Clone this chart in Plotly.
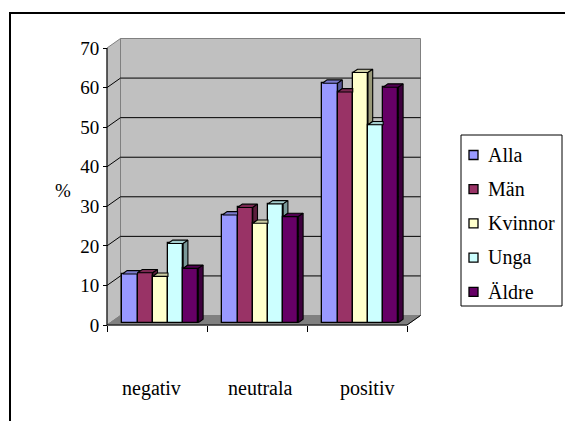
import plotly.graph_objects as go

# Survey answers (%) per attitude category
categories = ["negativ", "neutrala", "positiv"]
series_names = ["Alla", "Män", "Kvinnor", "Unga", "Äldre"]
alla = [12.3, 27.2, 60.5]
man = [12.6, 29.1, 58.3]
kvinnor = [11.7, 25.1, 63.2]
unga = [20.0, 30.0, 50.0]
aldre = [13.7, 26.8, 59.5]
y_ticks = [0, 10, 20, 30, 40, 50, 60, 70]

series_values = [alla, man, kvinnor, unga, aldre]
colors = ["#9999FF", "#993366", "#FFFFCC", "#CCFFFF", "#660066"]

FONT = "Liberation Serif"
FS = 19
FS_LABEL = 20

# ---- page geometry (pixels) ----
W, H = 565, 421
ML, MR, MT, MB = 82, 133, 28, 84
PW, PH = W - ML - MR, H - MT - MB
PX_X = 100.0          # pixels per category
PX_Y = 3.957          # pixels per percent
AX_X = 107            # pixel column of the front value axis
AX_Y = 325            # pixel row of the front floor edge

x_range = [-0.5 - (AX_X - ML) / PX_X, -0.5 + (W - MR - AX_X) / PX_X]
y_range = [-(H - MB - AX_Y) / PX_Y, (AX_Y - MT) / PX_Y]


def paper_x(px):
    return (px - ML) / PW


def paper_y(py):
    return 1 - (py - MT) / PH


# ---- oblique depth projection ----
DX = 13.5 / PX_X      # horizontal shift of the back wall
DY = 9.5 / PX_Y       # vertical shift of the back wall
D0, D1 = 0.25, 0.60   # depth slice occupied by the bars
BW = 0.152            # bar width in category units
YMAX = y_ticks[-1]
XL, XR = -0.5, len(categories) - 0.5


def P(x, y, d):
    return x + DX * d, y + DY * d


def shade(hex_color, f):
    h = hex_color.lstrip("#")
    r, g, b = (int(h[k:k + 2], 16) for k in (0, 2, 4))
    return "rgb(%d,%d,%d)" % (r * f, g * f, b * f)


def path(points):
    return "M " + " L ".join("%.5f,%.5f" % p for p in points) + " Z"


shapes = []
# side wall, back wall, floor
shapes.append(dict(type="path", layer="below", xref="x", yref="y",
                   path=path([P(XL, 0, 0), P(XL, 0, 1), P(XL, YMAX, 1), P(XL, YMAX, 0)]),
                   fillcolor="#C0C0C0", line=dict(color="#808080", width=1)))
shapes.append(dict(type="path", layer="below", xref="x", yref="y",
                   path=path([P(XL, 0, 1), P(XR, 0, 1), P(XR, YMAX, 1), P(XL, YMAX, 1)]),
                   fillcolor="#C0C0C0", line=dict(color="#808080", width=1)))
shapes.append(dict(type="path", layer="below", xref="x", yref="y",
                   path=path([P(XL, 0, 0), P(XR, 0, 0), P(XR, 0, 1), P(XL, 0, 1)]),
                   fillcolor="#808080", line=dict(color="#808080", width=1)))
# gridlines on back and side walls
for t in y_ticks[1:-1]:
    for a, b in ((P(XL, t, 0), P(XL, t, 1)), (P(XL, t, 1), P(XR, t, 1))):
        shapes.append(dict(type="line", layer="below", xref="x", yref="y",
                           x0=a[0], y0=a[1], x1=b[0], y1=b[1],
                           line=dict(color="#000000", width=1)))
# front axis lines
for a, b in ((P(XL, 0, 0), P(XL, YMAX, 0)), (P(XL, 0, 0), P(XR, 0, 0)),
             (P(XR, 0, 0), P(XR, 0, 1))):
    shapes.append(dict(type="line", layer="above", xref="x", yref="y",
                       x0=a[0], y0=a[1], x1=b[0], y1=b[1],
                       line=dict(color="#000000", width=1)))
# outer frame
shapes.append(dict(type="rect", xref="paper", yref="paper", layer="above",
                   x0=paper_x(10), x1=paper_x(W + 10), y0=paper_y(H + 10), y1=paper_y(13),
                   line=dict(color="#000000", width=2), fillcolor="rgba(0,0,0,0)"))

fig = go.Figure()
n = len(series_names)
for j, (name, vals, col) in enumerate(zip(series_names, series_values, colors)):
    xs_front, tops, sides = [], [], []
    for i, v in enumerate(vals):
        xl = i - n * BW / 2 + j * BW
        xr = xl + BW
        xs_front.append((xl + xr) / 2 + DX * D0)
        nxt = series_values[j + 1][i] if j + 1 < n else None
        # top face, trimmed where the taller neighbour hides it
        hh = 0.0 if (nxt is None or nxt <= v) else min((nxt - v) / DY, D1 - D0)
        top = [P(xl, v, D0), P(xr, v, D0), P(xr - DX * hh, v, D0 + hh),
               P(xr - DX * hh, v, D1), P(xl, v, D1), P(xl, v, D0)]
        tops.extend(top + [(None, None)])
        # right side face, only the part above the neighbour
        if nxt is None or nxt < v:
            lo = 0.0 if nxt is None else nxt
            side = [P(xr, lo, D0), P(xr, v, D0), P(xr, v, D1), P(xr, lo, D1), P(xr, lo, D0)]
            sides.extend(side + [(None, None)])
    fig.add_trace(go.Bar(
        x=xs_front, y=vals, base=DY * D0, width=BW, name=name,
        marker=dict(color=col, line=dict(color="#000000", width=1.3)),
        showlegend=False,
    ))
    for pts, f in ((tops, 0.8), (sides, 0.6)):
        if not pts:
            continue
        fig.add_trace(go.Scatter(
            x=[p[0] for p in pts], y=[p[1] for p in pts], mode="lines",
            fill="toself", fillcolor=shade(col, f),
            line=dict(color="#000000", width=1.1),
            showlegend=False, hoverinfo="skip",
        ))

annotations = [dict(xref="paper", yref="paper", x=paper_x(63), y=paper_y(190),
                    xanchor="center", yanchor="middle",
                    text="%", showarrow=False, font=dict(family=FONT, size=FS, color="#000"))]
label_nudge = [-6, 3, 10]
for i, c in enumerate(categories):
    annotations.append(dict(xref="x", yref="paper", x=i, y=paper_y(388), text=c,
                            xanchor="center", yanchor="middle",
                            xshift=label_nudge[i], showarrow=False,
                            font=dict(family=FONT, size=FS_LABEL, color="#000")))

# legend box with colour keys
LG_L, LG_T, LG_R, LG_B = 461, 135, 562, 306
LG_ROW0, LG_STEP, LG_KEY = 155, 34.2, 9
shapes.append(dict(type="rect", xref="paper", yref="paper", layer="above",
                   x0=paper_x(LG_L), x1=paper_x(LG_R), y0=paper_y(LG_B), y1=paper_y(LG_T),
                   line=dict(color="#000000", width=1), fillcolor="#FFFFFF"))
for k, (name, col) in enumerate(zip(series_names, colors)):
    yc = LG_ROW0 + k * LG_STEP
    shapes.append(dict(type="rect", xref="paper", yref="paper", layer="above",
                       x0=paper_x(469), x1=paper_x(469 + LG_KEY),
                       y0=paper_y(yc + LG_KEY / 2), y1=paper_y(yc - LG_KEY / 2),
                       line=dict(color="#000000", width=1.3), fillcolor=col))
    annotations.append(dict(xref="paper", yref="paper", x=paper_x(486), y=paper_y(yc),
                            xanchor="left", yanchor="middle", text=name, showarrow=False,
                            font=dict(family=FONT, size=FS_LABEL, color="#000")))

fig.update_layout(
    width=W, height=H,
    margin=dict(l=ML, r=MR, t=MT, b=MB, pad=0, autoexpand=False),
    paper_bgcolor="#FFFFFF", plot_bgcolor="rgba(0,0,0,0)",
    barmode="overlay", bargap=0,
    showlegend=False, hovermode=False,
    font=dict(family=FONT, size=FS, color="#000000"),
    xaxis=dict(range=x_range, anchor="free", position=paper_y(AX_Y),
               showgrid=False, zeroline=False, showline=False,
               tickmode="array", tickvals=[XL + k for k in range(len(categories) + 1)],
               ticks="outside", ticklen=6, tickcolor="#000", tickwidth=1,
               showticklabels=False, fixedrange=True),
    yaxis=dict(range=y_range, anchor="free", position=paper_x(AX_X),
               showgrid=False, zeroline=False, showline=False,
               tickmode="array", tickvals=y_ticks, ticktext=[str(t) for t in y_ticks],
               ticks="outside", ticklen=4, tickcolor="#000", tickwidth=1,
               tickfont=dict(family=FONT, size=FS, color="#000"), fixedrange=True),
    shapes=shapes, annotations=annotations,
)

fig.write_html("out.html")
